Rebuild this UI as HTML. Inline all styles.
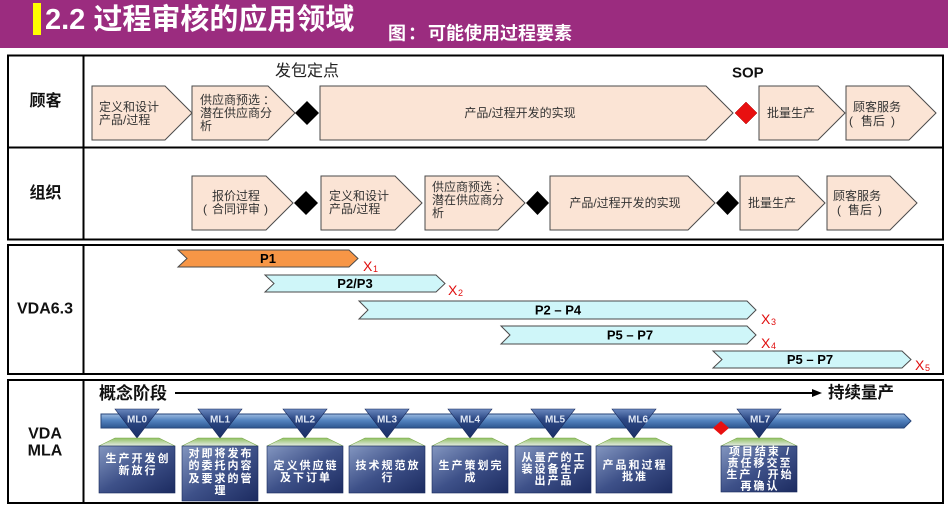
<!DOCTYPE html>
<html><head><meta charset="utf-8">
<style>
html,body{margin:0;padding:0;background:#fff;}
svg{display:block;}
text{font-family:"Liberation Sans","Noto Sans CJK SC",sans-serif;}
.cj{dominant-baseline:central;}
.bx{font-size:12px;fill:#333;}
.lbl{font-size:16px;font-weight:bold;fill:#111;}
.pb{font-size:13px;font-weight:bold;fill:#000;text-anchor:middle;dominant-baseline:central;}
.xr{font-size:14px;fill:#e01010;}
.xs{font-size:9px;fill:#e01010;}
.ml{font-size:10px;font-weight:bold;fill:#dfe7f5;text-anchor:middle;dominant-baseline:central;}
.mt{font-size:11px;font-weight:bold;fill:#fff;text-anchor:middle;dominant-baseline:central;letter-spacing:2px;}
</style></head>
<body>
<svg width="948" height="505" viewBox="0 0 948 505" xmlns="http://www.w3.org/2000/svg">
<defs>
 <linearGradient id="bar" x1="0" y1="0" x2="0" y2="1">
  <stop offset="0" stop-color="#9dbbe0"/>
  <stop offset="0.45" stop-color="#5383bf"/>
  <stop offset="1" stop-color="#2c5690"/>
 </linearGradient>
 <linearGradient id="tri" x1="0" y1="0" x2="0" y2="1">
  <stop offset="0" stop-color="#6a88bf"/>
  <stop offset="0.35" stop-color="#2c4884"/>
  <stop offset="1" stop-color="#1b2f66"/>
 </linearGradient>
 <linearGradient id="box" x1="0" y1="0" x2="1" y2="1">
  <stop offset="0" stop-color="#8396c0"/>
  <stop offset="0.5" stop-color="#3e5189"/>
  <stop offset="1" stop-color="#1c2b60"/>
 </linearGradient>
 <linearGradient id="roof" x1="0" y1="0" x2="0" y2="1">
  <stop offset="0" stop-color="#8fbf5f"/>
  <stop offset="1" stop-color="#e6ece8"/>
 </linearGradient>
</defs>

<!-- header -->
<rect x="0" y="0" width="948" height="48" fill="#9b2c7f"/>
<rect x="33" y="3" width="8" height="32" fill="#ffff00"/>
<text x="45" y="20" class="cj" style="font-size:29px;font-weight:bold;fill:#fff;">2.2 过程审核的应用领域</text>
<text x="388" y="33.5" class="cj" style="font-size:18px;font-weight:bold;fill:#fff;">图<tspan dx="2">：</tspan><tspan dx="2">可能使用过程要素</tspan></text>

<!-- table frames -->
<g fill="none" stroke="#000" stroke-width="2">
 <rect x="8" y="55.5" width="935" height="184"/>
 <line x1="8" y1="147.5" x2="943" y2="147.5"/>
 <line x1="83.5" y1="55.5" x2="83.5" y2="239.5"/>
 <rect x="8" y="245" width="935" height="129"/>
 <line x1="83.5" y1="245" x2="83.5" y2="374"/>
 <rect x="8" y="380" width="935" height="123"/>
 <line x1="83.5" y1="380" x2="83.5" y2="503"/>
</g>

<!-- row labels -->
<text x="45.5" y="101.5" class="cj lbl" text-anchor="middle">顾客</text>
<text x="45.5" y="193.5" class="cj lbl" text-anchor="middle">组织</text>
<text x="45" y="309" class="cj lbl" text-anchor="middle">VDA6.3</text>
<text x="45" y="434" class="cj lbl" text-anchor="middle">VDA</text>
<text x="45" y="451" class="cj lbl" text-anchor="middle">MLA</text>

<!-- row 1 customer -->
<text x="275" y="71.5" class="cj" style="font-size:16px;fill:#222;">发包定点</text>
<text x="732" y="73" class="cj" style="font-size:15px;font-weight:bold;fill:#111;">SOP</text>
<g fill="#fbe4d5" stroke="#4a4a4a" stroke-width="1">
 <polygon points="92,86 165,86 192,113 165,140 92,140"/>
 <polygon points="192,86 268,86 295,113 268,140 192,140"/>
 <polygon points="320,86 706,86 733,113 706,140 320,140"/>
 <polygon points="759,86 818,86 845,113 818,140 759,140"/>
 <polygon points="846,86 909,86 936,113 909,140 846,140"/>
</g>
<polygon points="295,113 307,101 319,113 307,125" fill="#000"/>
<polygon points="735,113 746,102 757,113 746,124" fill="#e81010" stroke="#a00" stroke-width="0.5"/>
<text x="99" y="107" class="cj bx">定义和设计</text>
<text x="99" y="120" class="cj bx">产品/过程</text>
<text x="200" y="100" class="cj bx">供应商预选<tspan dx="3">：</tspan></text>
<text x="200" y="113" class="cj bx">潜在供应商分</text>
<text x="200" y="126" class="cj bx">析</text>
<text x="520" y="113" class="cj bx" text-anchor="middle">产品/过程开发的实现</text>
<text x="767" y="113" class="cj bx">批量生产</text>
<text x="853" y="107" class="cj bx">顾客服务</text>
<text x="849" y="121" class="cj bx">(</text>
<text x="861" y="121" class="cj bx">售后</text>
<text x="891" y="121" class="cj bx">)</text>

<!-- row 2 organisation -->
<g fill="#fbe4d5" stroke="#4a4a4a" stroke-width="1">
 <polygon points="192,176 266,176 293,203 266,230 192,230"/>
 <polygon points="321,176 395,176 422,203 395,230 321,230"/>
 <polygon points="425,176 498,176 525,203 498,230 425,230"/>
 <polygon points="550,176 688,176 715,203 688,230 550,230"/>
 <polygon points="740,176 798,176 825,203 798,230 740,230"/>
 <polygon points="827,176 890,176 917,203 890,230 827,230"/>
</g>
<g fill="#000">
 <polygon points="294,203 306,191 318,203 306,215"/>
 <polygon points="526,203 537.5,191 549,203 537.5,215"/>
 <polygon points="716,203 727.5,191 739,203 727.5,215"/>
</g>
<text x="236" y="196" class="cj bx" text-anchor="middle">报价过程</text>
<text x="203" y="209" class="cj bx">(</text>
<text x="236" y="209" class="cj bx" text-anchor="middle">合同评审</text>
<text x="264" y="209" class="cj bx">)</text>
<text x="329" y="196" class="cj bx">定义和设计</text>
<text x="329" y="209" class="cj bx">产品/过程</text>
<text x="432" y="187" class="cj bx">供应商预选<tspan dx="3">：</tspan></text>
<text x="432" y="200" class="cj bx">潜在供应商分</text>
<text x="432" y="213" class="cj bx">析</text>
<text x="625" y="203" class="cj bx" text-anchor="middle">产品/过程开发的实现</text>
<text x="748" y="203" class="cj bx">批量生产</text>
<text x="833" y="196" class="cj bx">顾客服务</text>
<text x="837" y="210" class="cj bx">(</text>
<text x="848" y="210" class="cj bx">售后</text>
<text x="878" y="210" class="cj bx">)</text>

<!-- VDA 6.3 bars -->
<polygon points="178,250 349,250 358,258.5 349,267 178,267 187,258.5" fill="#f79646" stroke="#4a4a4a" stroke-width="1"/>
<g fill="#cff6f9" stroke="#4a4a4a" stroke-width="1">
 <polygon points="265,275 436,275 445,283.5 436,292 265,292 274,283.5"/>
 <polygon points="359,301 747,301 756,310 747,319 359,319 368,310"/>
 <polygon points="501,326 747,326 756,335 747,344 501,344 510,335"/>
 <polygon points="713,351 902,351 911,359.5 902,368 713,368 722,359.5"/>
</g>
<text x="268" y="258.5" class="pb">P1</text>
<text x="355" y="283.5" class="pb">P2/P3</text>
<text x="558" y="310" class="pb">P2 – P4</text>
<text x="630" y="335" class="pb">P5 – P7</text>
<text x="810" y="359.5" class="pb">P5 – P7</text>
<text x="363" y="271" class="xr">X</text><text x="373" y="272" class="xs">1</text>
<text x="448" y="295" class="xr">X</text><text x="458" y="296" class="xs">2</text>
<text x="761" y="324" class="xr">X</text><text x="771" y="325" class="xs">3</text>
<text x="761" y="348" class="xr">X</text><text x="771" y="349" class="xs">4</text>
<text x="915" y="370" class="xr">X</text><text x="925" y="371" class="xs">5</text>

<!-- MLA -->
<text x="99" y="393.5" class="cj" style="font-size:17px;font-weight:bold;fill:#111;">概念阶段</text>
<line x1="175" y1="393" x2="814" y2="393" stroke="#000" stroke-width="2"/>
<polygon points="812,389 822,393 812,397" fill="#000"/>
<text x="828" y="393" class="cj" style="font-size:16.5px;font-weight:bold;fill:#111;">持续量产</text>

<polygon points="101,414 904,414 911,421 904,428 101,428" fill="url(#bar)" stroke="#27467a" stroke-width="1"/>
<polygon points="713,428 721,421 729,428 721,435" fill="#e81010"/>

<g stroke="#16285a" stroke-width="0.6">
 <polygon points="115,409 159,409 137,438" fill="url(#tri)"/>
 <polygon points="115,438 159,438 175,446 99,446" fill="url(#roof)" stroke="#7aa84c"/>
 <rect x="99" y="446" width="76" height="47" fill="url(#box)"/>
 <polygon points="198,409 242,409 220,438" fill="url(#tri)"/>
 <polygon points="198,438 242,438 258,446 182,446" fill="url(#roof)" stroke="#7aa84c"/>
 <rect x="182" y="446" width="76" height="55" fill="url(#box)"/>
 <polygon points="283,409 327,409 305,438" fill="url(#tri)"/>
 <polygon points="283,438 327,438 343,446 267,446" fill="url(#roof)" stroke="#7aa84c"/>
 <rect x="267" y="446" width="76" height="47" fill="url(#box)"/>
 <polygon points="365,409 409,409 387,438" fill="url(#tri)"/>
 <polygon points="365,438 409,438 425,446 349,446" fill="url(#roof)" stroke="#7aa84c"/>
 <rect x="349" y="446" width="76" height="47" fill="url(#box)"/>
 <polygon points="448,409 492,409 470,438" fill="url(#tri)"/>
 <polygon points="448,438 492,438 508,446 432,446" fill="url(#roof)" stroke="#7aa84c"/>
 <rect x="432" y="446" width="76" height="47" fill="url(#box)"/>
 <polygon points="531,409 575,409 553,438" fill="url(#tri)"/>
 <polygon points="531,438 575,438 591,446 515,446" fill="url(#roof)" stroke="#7aa84c"/>
 <rect x="515" y="446" width="76" height="47" fill="url(#box)"/>
 <polygon points="612,409 656,409 634,438" fill="url(#tri)"/>
 <polygon points="612,438 656,438 672,446 596,446" fill="url(#roof)" stroke="#7aa84c"/>
 <rect x="596" y="446" width="76" height="47" fill="url(#box)"/>
 <polygon points="737,409 781,409 759,438" fill="url(#tri)"/>
 <polygon points="737,438 781,438 797,446 721,446" fill="url(#roof)" stroke="#7aa84c"/>
 <rect x="721" y="446" width="76" height="46" fill="url(#box)"/>
</g>

<text x="137" y="420" class="ml">ML0</text>
<text x="220" y="420" class="ml">ML1</text>
<text x="305" y="420" class="ml">ML2</text>
<text x="387" y="420" class="ml">ML3</text>
<text x="470" y="420" class="ml">ML4</text>
<text x="555" y="420" class="ml">ML5</text>
<text x="638" y="420" class="ml">ML6</text>
<text x="760" y="420" class="ml">ML7</text>

<text x="138" y="459" class="mt">生产开发创</text>
<text x="138" y="471" class="mt">新放行</text>

<text x="221" y="454" class="mt">对即将发布</text>
<text x="221" y="466" class="mt">的委托内容</text>
<text x="221" y="479" class="mt">及要求的管</text>
<text x="221" y="491" class="mt">理</text>

<text x="306" y="466" class="mt">定义供应链</text>
<text x="306" y="478" class="mt">及下订单</text>

<text x="388" y="466" class="mt">技术规范放</text>
<text x="388" y="478" class="mt">行</text>

<text x="471" y="466" class="mt">生产策划完</text>
<text x="471" y="478" class="mt">成</text>

<text x="554" y="458" class="mt">从量产的工</text>
<text x="554" y="469.5" class="mt">装设备生产</text>
<text x="554" y="481" class="mt">出产品</text>

<text x="635" y="465.5" class="mt">产品和过程</text>
<text x="635" y="477" class="mt">批准</text>

<text x="760" y="452" class="mt">项目结束 /</text>
<text x="760" y="463.5" class="mt">责任移交至</text>
<text x="760" y="475" class="mt">生产 / 开始</text>
<text x="760" y="486.5" class="mt">再确认</text>
</svg>
</body></html>
